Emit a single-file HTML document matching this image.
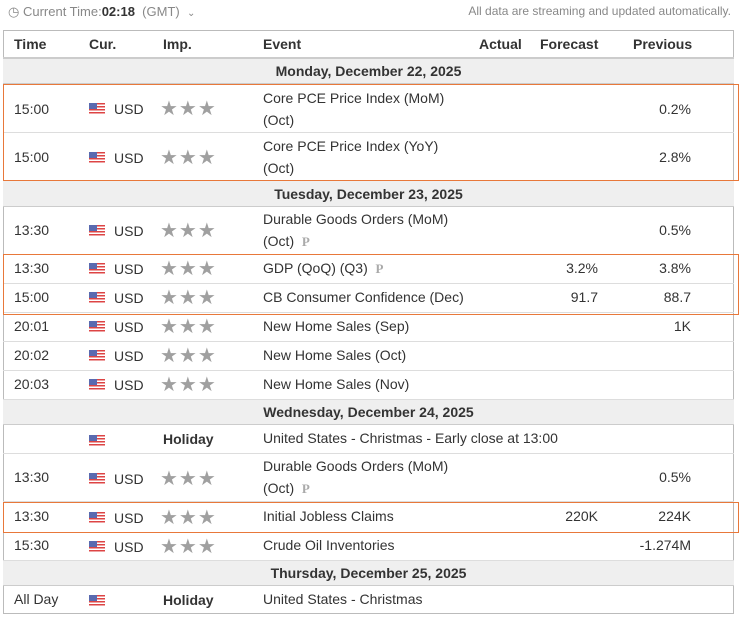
<!DOCTYPE html>
<html><head><meta charset="utf-8"><style>
*{margin:0;padding:0;box-sizing:border-box}
body{width:739px;height:617px;background:#fff;font-family:"Liberation Sans",Arial,sans-serif;font-size:14px;color:#333;position:relative;overflow:hidden}
.a{position:absolute;white-space:nowrap}
.r{position:absolute;left:3px;width:731px;border-bottom:1px solid #ddd}
.d{position:absolute;left:3px;width:731px;background:#efefef;border-bottom:1px solid #ccc;font-weight:bold;text-align:center;color:#333}
.flag{position:absolute;width:16px;height:11px;background:repeating-linear-gradient(#d44 0 1.5px,#fff 1.5px 3px)}
.flag::before{content:"";position:absolute;left:0;top:0;width:8px;height:6px;background:#5a6ab0}
.st{position:absolute;color:#a0a0a0;font-size:20px;letter-spacing:1px;line-height:20px}
.p{color:#aaa;font-family:"Liberation Serif",serif;font-weight:bold;font-size:13px}
.ob{position:absolute;left:3px;width:736px;border:1.5px solid #e8783a}
.rt{text-align:right}
</style></head><body>
<div class="a" style="left:8px;top:4px;color:#888;font-size:13px">◷ Current Time:<b style="color:#333">02:18</b>&nbsp; (GMT)&nbsp; <span style="font-size:10px">⌄</span></div>
<div class="a" style="right:8px;top:4px;color:#888;font-size:12px">All data are streaming and updated automatically.</div>
<div style="position:absolute;left:3px;top:30px;width:731px;height:584px;border:1px solid #bbb"></div>
<div class="r" style="top:31px;height:28px;border-bottom:2px solid #ccc"></div>
<div class="a" style="left:14px;top:36px;font-weight:bold">Time</div>
<div class="a" style="left:89px;top:36px;font-weight:bold">Cur.</div>
<div class="a" style="left:163px;top:36px;font-weight:bold">Imp.</div>
<div class="a" style="left:263px;top:36px;font-weight:bold">Event</div>
<div class="a" style="left:479px;top:36px;font-weight:bold">Actual</div>
<div class="a" style="left:540px;top:36px;font-weight:bold">Forecast</div>
<div class="a" style="left:633px;top:36px;font-weight:bold">Previous</div>

<div class="d" style="top:59px;height:25px;line-height:25px">Monday, December 22, 2025</div>
<div class="r" style="top:84px;height:49px"></div>
<div class="r" style="top:133px;height:48px"></div>
<div class="d" style="top:181px;height:26px;line-height:26px">Tuesday, December 23, 2025</div>
<div class="r" style="top:207px;height:48px"></div>
<div class="r" style="top:255px;height:29px"></div>
<div class="r" style="top:284px;height:29px"></div>
<div class="r" style="top:313px;height:29px"></div>
<div class="r" style="top:342px;height:29px"></div>
<div class="r" style="top:371px;height:29px"></div>
<div class="d" style="top:400px;height:25px;line-height:25px">Wednesday, December 24, 2025</div>
<div class="r" style="top:425px;height:29px"></div>
<div class="r" style="top:454px;height:48px"></div>
<div class="r" style="top:502px;height:31px"></div>
<div class="r" style="top:533px;height:28px"></div>
<div class="d" style="top:561px;height:25px;line-height:25px">Thursday, December 25, 2025</div>

<div class="a" style="left:14px;top:101px">15:00</div><div class="flag" style="left:89px;top:103px"></div><div class="a" style="left:114px;top:101px">USD</div><div class="st" style="left:160px;top:99px">★★★</div>
<div class="a" style="left:263px;top:90px">Core PCE Price Index (MoM)</div><div class="a" style="left:263px;top:112px">(Oct)</div><div class="a rt" style="right:48px;top:101px">0.2%</div>

<div class="a" style="left:14px;top:149px">15:00</div><div class="flag" style="left:89px;top:152px"></div><div class="a" style="left:114px;top:150px">USD</div><div class="st" style="left:160px;top:148px">★★★</div>
<div class="a" style="left:263px;top:138px">Core PCE Price Index (YoY)</div><div class="a" style="left:263px;top:160px">(Oct)</div><div class="a rt" style="right:48px;top:149px">2.8%</div>

<div class="a" style="left:14px;top:222px">13:30</div><div class="flag" style="left:89px;top:225px"></div><div class="a" style="left:114px;top:223px">USD</div><div class="st" style="left:160px;top:221px">★★★</div>
<div class="a" style="left:263px;top:211px">Durable Goods Orders (MoM)</div><div class="a" style="left:263px;top:233px">(Oct) &nbsp;<span class="p">P</span></div><div class="a rt" style="right:48px;top:222px">0.5%</div>

<div class="a" style="left:14px;top:260px">13:30</div><div class="flag" style="left:89px;top:263px"></div><div class="a" style="left:114px;top:261px">USD</div><div class="st" style="left:160px;top:259px">★★★</div>
<div class="a" style="left:263px;top:260px">GDP (QoQ) (Q3) &nbsp;<span class="p">P</span></div><div class="a rt" style="right:141px;top:260px">3.2%</div><div class="a rt" style="right:48px;top:260px">3.8%</div>

<div class="a" style="left:14px;top:289px">15:00</div><div class="flag" style="left:89px;top:292px"></div><div class="a" style="left:114px;top:290px">USD</div><div class="st" style="left:160px;top:288px">★★★</div>
<div class="a" style="left:263px;top:289px">CB Consumer Confidence (Dec)</div><div class="a rt" style="right:141px;top:289px">91.7</div><div class="a rt" style="right:48px;top:289px">88.7</div>

<div class="a" style="left:14px;top:318px">20:01</div><div class="flag" style="left:89px;top:321px"></div><div class="a" style="left:114px;top:319px">USD</div><div class="st" style="left:160px;top:317px">★★★</div>
<div class="a" style="left:263px;top:318px">New Home Sales (Sep)</div><div class="a rt" style="right:48px;top:318px">1K</div>

<div class="a" style="left:14px;top:347px">20:02</div><div class="flag" style="left:89px;top:350px"></div><div class="a" style="left:114px;top:348px">USD</div><div class="st" style="left:160px;top:346px">★★★</div>
<div class="a" style="left:263px;top:347px">New Home Sales (Oct)</div>

<div class="a" style="left:14px;top:376px">20:03</div><div class="flag" style="left:89px;top:379px"></div><div class="a" style="left:114px;top:377px">USD</div><div class="st" style="left:160px;top:375px">★★★</div>
<div class="a" style="left:263px;top:376px">New Home Sales (Nov)</div>

<div class="flag" style="left:89px;top:435px"></div><div class="a" style="left:163px;top:431px;font-weight:bold">Holiday</div>
<div class="a" style="left:263px;top:430px">United States - Christmas - Early close at 13:00</div>

<div class="a" style="left:14px;top:469px">13:30</div><div class="flag" style="left:89px;top:473px"></div><div class="a" style="left:114px;top:471px">USD</div><div class="st" style="left:160px;top:469px">★★★</div>
<div class="a" style="left:263px;top:458px">Durable Goods Orders (MoM)</div><div class="a" style="left:263px;top:480px">(Oct) &nbsp;<span class="p">P</span></div><div class="a rt" style="right:48px;top:469px">0.5%</div>

<div class="a" style="left:14px;top:508px">13:30</div><div class="flag" style="left:89px;top:512px"></div><div class="a" style="left:114px;top:510px">USD</div><div class="st" style="left:160px;top:508px">★★★</div>
<div class="a" style="left:263px;top:508px">Initial Jobless Claims</div><div class="a rt" style="right:141px;top:508px">220K</div><div class="a rt" style="right:48px;top:508px">224K</div>

<div class="a" style="left:14px;top:537px">15:30</div><div class="flag" style="left:89px;top:541px"></div><div class="a" style="left:114px;top:539px">USD</div><div class="st" style="left:160px;top:537px">★★★</div>
<div class="a" style="left:263px;top:537px">Crude Oil Inventories</div><div class="a rt" style="right:48px;top:537px">-1.274M</div>

<div class="a" style="left:14px;top:591px">All Day</div><div class="flag" style="left:89px;top:595px"></div><div class="a" style="left:163px;top:592px;font-weight:bold">Holiday</div>
<div class="a" style="left:263px;top:591px">United States - Christmas</div>

<div class="ob" style="top:84px;height:97px"></div>
<div class="ob" style="top:254px;height:61px"></div>
<div class="ob" style="top:502px;height:31px"></div>
</body></html>
